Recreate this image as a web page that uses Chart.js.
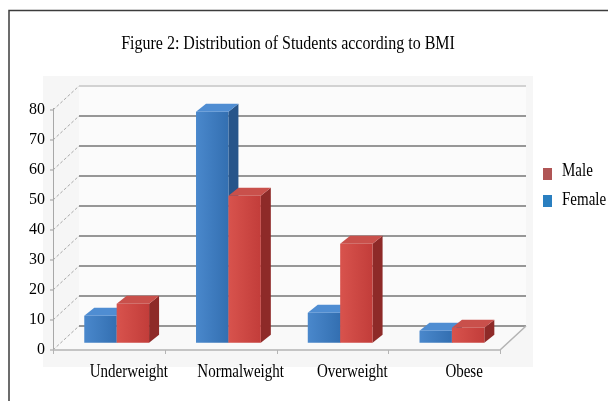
<!DOCTYPE html>
<html>
<head>
<meta charset="utf-8">
<script src="https://cdn.jsdelivr.net/npm/chart.js@4.4.0/dist/chart.umd.min.js"></script>
<style>
  html, body { margin: 0; padding: 0; background: #ffffff; }
  canvas { display: block; }
</style>
</head>
<body>
<canvas id="chart" width="608" height="401"></canvas>
<script>
// Data
const categories = ['Underweight', 'Normalweight', 'Overweight', 'Obese'];
const femaleValues = [9, 77, 10, 4];
const maleValues = [13, 49, 33, 5];
const yMin = 0;
const yMax = 80;
const yStep = 10;
const titleText = 'Figure 2: Distribution of Students according to BMI';
const legendOrder = ['Male', 'Female'];

// Look
const SERIF = '"Liberation Serif", "Times New Roman", serif';
const WALL = { dx: 26, dy: -24 };      // depth of the box behind the front plane
const BAR_SHIFT = 0.3;                 // bars stand this far into the floor
const BAR_DEPTH = { dx: 10, dy: -8 };  // thickness of each bar
const LABEL_SHIFT = 20;                // category labels sit right of the slot centre
const palette = {
  Female: { front: ['#4a88cc', '#336fb1'], side: '#27558a', top: '#4f8dd2', key: '#2a7fc0' },
  Male:   { front: ['#d8534d', '#c23d3a'], side: '#8e2a28', top: '#c9504b', key: '#b05555' }
};

function poly(ctx, pts, fill) {
  ctx.beginPath();
  ctx.moveTo(pts[0][0], pts[0][1]);
  for (let i = 1; i < pts.length; i++) ctx.lineTo(pts[i][0], pts[i][1]);
  ctx.closePath();
  ctx.fillStyle = fill;
  ctx.fill();
}

// tall, narrow serif lettering
function tallText(ctx, text, x, y, size, stretch, align) {
  ctx.save();
  ctx.translate(x, y);
  ctx.scale(1, stretch);
  ctx.font = size + 'px ' + SERIF;
  ctx.textAlign = align;
  ctx.textBaseline = 'alphabetic';
  ctx.fillStyle = '#000';
  ctx.fillText(text, 0, 0);
  ctx.restore();
}

// Draws the box, grid and 3D bars from the chart's scales and bar elements
const box3d = {
  id: 'box3d',
  beforeDraw(chart) {
    const ctx = chart.ctx;
    ctx.save();
    ctx.fillStyle = '#f6f6f6';
    ctx.fillRect(43, 76, 490, 291);
    ctx.restore();
  },
  beforeDatasetsDraw(chart) {
    const ctx = chart.ctx;
    const xs = chart.scales.x, ys = chart.scales.y;
    const x0 = xs.left, x1 = xs.right;
    const yb = ys.getPixelForValue(yMin);
    const yt = ys.getPixelForValue(yMax);
    ctx.save();

    // back wall and floor
    poly(ctx, [[x0 + WALL.dx, yt + WALL.dy], [x1 + WALL.dx, yt + WALL.dy],
               [x1 + WALL.dx, yb + WALL.dy], [x0 + WALL.dx, yb + WALL.dy]], '#fbfbfb');
    poly(ctx, [[x0, yb], [x1, yb], [x1 + WALL.dx, yb + WALL.dy], [x0 + WALL.dx, yb + WALL.dy]], '#f9f9f9');

    // grid lines on the back wall, diagonals on the side wall
    ys.ticks.forEach(t => {
      const y = ys.getPixelForValue(t.value);
      ctx.setLineDash([]);
      ctx.lineWidth = 2;
      ctx.strokeStyle = t.value === yMax ? '#d2d2d2' : '#979797';
      ctx.beginPath();
      ctx.moveTo(x0 + WALL.dx, y + WALL.dy);
      ctx.lineTo(x1 + WALL.dx, y + WALL.dy);
      ctx.stroke();

      ctx.lineWidth = 1;
      ctx.strokeStyle = '#a9a9a9';
      ctx.setLineDash([3, 2]);
      ctx.beginPath();
      ctx.moveTo(x0, y);
      ctx.lineTo(x0 + WALL.dx, y + WALL.dy);
      ctx.stroke();

      // tick mark on the front axis
      ctx.setLineDash([]);
      ctx.strokeStyle = '#9a9a9a';
      ctx.beginPath();
      ctx.moveTo(x0 - 3, y);
      ctx.lineTo(x0, y);
      ctx.stroke();
    });
    ctx.setLineDash([]);

    // front value axis
    ctx.strokeStyle = '#a8a8a8';
    ctx.lineWidth = 1;
    ctx.beginPath();
    ctx.moveTo(x0 + 0.5, yt - 2);
    ctx.lineTo(x0 + 0.5, yb);
    ctx.stroke();

    // floor outline
    ctx.strokeStyle = '#b4b4b4';
    ctx.lineWidth = 1.5;
    ctx.beginPath();
    ctx.moveTo(x0, yb);
    ctx.lineTo(x1, yb);
    ctx.lineTo(x1 + WALL.dx, yb + WALL.dy);
    ctx.stroke();

    // category boundary marks
    const n = chart.data.labels.length;
    const cw = (x1 - x0) / n;
    ctx.lineWidth = 1;
    for (let k = 0; k <= n; k++) {
      const x = Math.round(x0 + k * cw) + 0.5;
      ctx.beginPath();
      ctx.moveTo(x, yb);
      ctx.lineTo(x, yb + 4);
      ctx.stroke();
    }

    // bars
    const sx = WALL.dx * BAR_SHIFT, sy = WALL.dy * BAR_SHIFT;
    const metas = chart.getSortedVisibleDatasetMetas();
    for (let i = 0; i < n; i++) {
      metas.forEach(meta => {
        const el = meta.data[i];
        const col = palette[chart.data.datasets[meta.index].label];
        const left = el.x - el.width / 2 + sx;
        const right = left + el.width;
        const top = el.y + sy;
        const bottom = el.base + sy;
        const d = BAR_DEPTH;
        // side
        poly(ctx, [[right, top], [right + d.dx, top + d.dy], [right + d.dx, bottom + d.dy], [right, bottom]], col.side);
        // front
        const g = ctx.createLinearGradient(left, 0, right, 0);
        g.addColorStop(0, col.front[0]);
        g.addColorStop(1, col.front[1]);
        poly(ctx, [[left, top], [right, top], [right, bottom], [left, bottom]], g);
        // top
        poly(ctx, [[left, top], [left + d.dx, top + d.dy], [right + d.dx, top + d.dy], [right, top]], col.top);
      });
    }
    ctx.restore();
    return false; // the bars are fully drawn above
  },
  afterDraw(chart) {
    const ctx = chart.ctx;
    const xs = chart.scales.x;

    // category labels
    chart.data.labels.forEach((lab, i) => {
      tallText(ctx, lab, xs.getPixelForValue(i) + LABEL_SHIFT, 377, 15, 1.2, 'center');
    });

    // title
    tallText(ctx, titleText, 288, 49, 16, 1.13, 'center');

    // legend
    legendOrder.forEach((name, k) => {
      const y = 168 + k * 27;
      ctx.fillStyle = palette[name].key;
      ctx.fillRect(543, y, 9, 12);
      tallText(ctx, name, 562, y + 8 + k * 2, 15, 1.2, 'left');
    });

    // frame
    ctx.save();
    ctx.strokeStyle = '#3c3c3c';
    ctx.lineWidth = 1.5;
    ctx.beginPath();
    ctx.moveTo(9, 401);
    ctx.lineTo(9, 10.5);
    ctx.lineTo(608, 10.5);
    ctx.stroke();
    ctx.restore();
  }
};

new Chart(document.getElementById('chart'), {
  type: 'bar',
  data: {
    labels: categories,
    datasets: [
      { label: 'Female', data: femaleValues, backgroundColor: palette.Female.key },
      { label: 'Male', data: maleValues, backgroundColor: palette.Male.key }
    ]
  },
  options: {
    responsive: false,
    animation: false,
    devicePixelRatio: 1,
    layout: { padding: { left: 0, right: 108, top: 110, bottom: 0 } },
    datasets: { bar: { categoryPercentage: 0.58, barPercentage: 1 } },
    plugins: {
      legend: { display: false },
      title: { display: false },
      tooltip: { enabled: false }
    },
    scales: {
      x: {
        grid: { display: false, drawTicks: false },
        border: { display: false },
        ticks: { display: false },
        afterFit: s => { s.height = 51; }
      },
      y: {
        min: yMin,
        max: yMax,
        grid: { display: false, drawTicks: false },
        border: { display: false },
        ticks: { stepSize: yStep, color: '#000', font: { family: SERIF, size: 16 }, padding: 8 },
        afterFit: s => { s.width = 53; }
      }
    }
  },
  plugins: [box3d]
});
</script>
</body>
</html>
